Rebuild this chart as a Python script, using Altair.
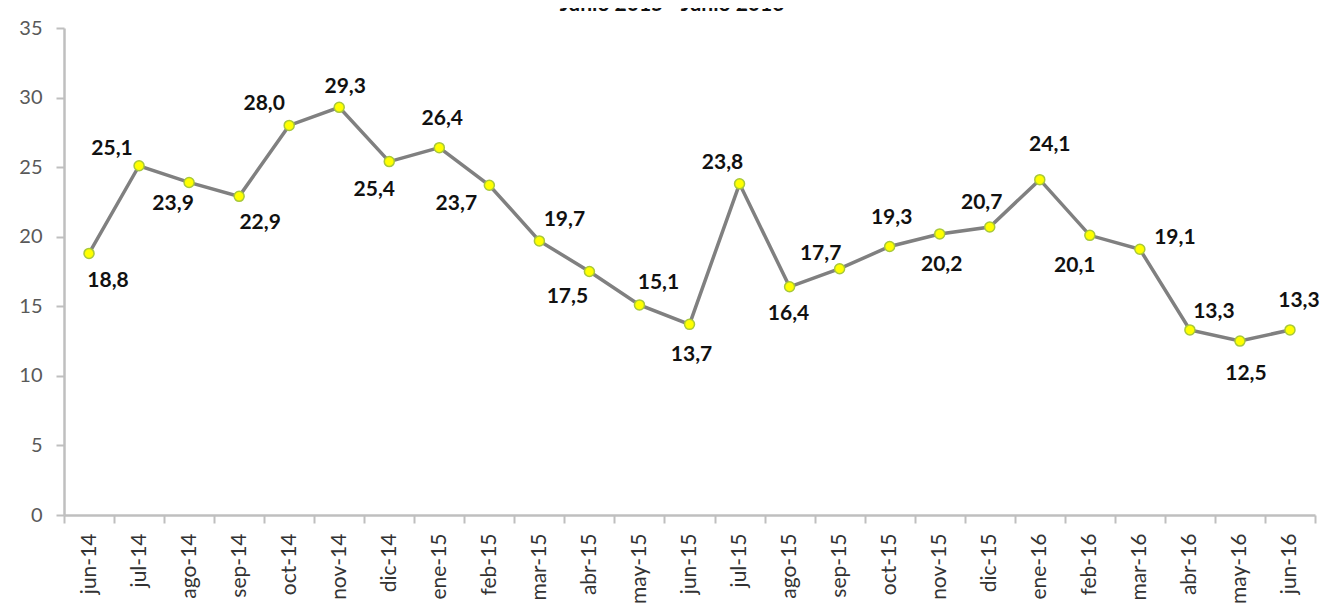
import altair as alt
import pandas as pd

# ---- data ----
months = ["jun-14", "jul-14", "ago-14", "sep-14", "oct-14", "nov-14", "dic-14",
          "ene-15", "feb-15", "mar-15", "abr-15", "may-15", "jun-15", "jul-15",
          "ago-15", "sep-15", "oct-15", "nov-15", "dic-15", "ene-16", "feb-16",
          "mar-16", "abr-16", "may-16", "jun-16"]
values = [18.8, 25.1, 23.9, 22.9, 28.0, 29.3, 25.4, 26.4, 23.7, 19.7, 17.5, 15.1,
          13.7, 23.8, 16.4, 17.7, 19.3, 20.2, 20.7, 24.1, 20.1, 19.1, 13.3, 12.5, 13.3]
y_ticks = [0, 5, 10, 15, 20, 25, 30, 35]
title_text = "Junio 2015 - Junio 2016"

# label placement relative to each point (pixels)
label_dx = [19, -27, -16, 21, -25, 6, -15, 3, -33, 25, -22, 19, 2, -17, -1, -19,
            2, 2, -8, 10, -15, 35, 24, 6, 9]
label_dy = [28, -17, 22, 27, -21, -20, 28, -29, 19, -21, 25, -22, 31, -21, 27, -15,
            -28, 31, -24, -35, 31, -11, -18, 33, -29]

labels = [f"{v:.1f}".replace(".", ",") for v in values]
df = pd.DataFrame({"mes": months, "valor": values, "etiqueta": labels})

FONT = "Lato"

x_enc = alt.X("mes:N", sort=months, title=None,
              scale=alt.Scale(type="band", paddingInner=0, paddingOuter=0),
              axis=alt.Axis(labelAngle=-90, labelAlign="right", labelBaseline="middle",
                            labelFont=FONT, labelFontSize=21, labelColor="#333333",
                            labelPadding=10, tickSize=8, tickBand="extent",
                            tickColor="#BFBFBF", tickWidth=2,
                            domainColor="#BFBFBF", domainWidth=2.5, grid=False))
y_enc = alt.Y("valor:Q", title=None,
              scale=alt.Scale(domain=[0, 35], nice=False, zero=True),
              axis=alt.Axis(values=y_ticks, labelFont=FONT, labelFontSize=20,
                            labelColor="#595959", labelPadding=14, tickSize=8,
                            tickColor="#BFBFBF", tickWidth=2,
                            domainColor="#BFBFBF", domainWidth=2.5, grid=False))

base = alt.Chart(df)

line = base.mark_line(color="#808080", strokeWidth=3.5).encode(x=x_enc, y=y_enc)
points = base.mark_point(filled=True, fill="#FFFF00", stroke="#A8C83A",
                         strokeWidth=1.5, size=100, opacity=1).encode(x=x_enc, y=y_enc)

label_layers = []
for m, ddx, ddy in zip(months, label_dx, label_dy):
    label_layers.append(
        base.transform_filter(alt.datum.mes == m)
        .mark_text(font=FONT, fontSize=21, fontWeight="bold", color="#111111",
                   dx=ddx, dy=ddy, align="center", baseline="middle")
        .encode(x=x_enc, y=y_enc, text="etiqueta:N")
    )

title_layer = alt.Chart(pd.DataFrame({"t": [title_text]})).mark_text(
    font=FONT, fontSize=21, fontWeight="bold", color="#111111",
    align="center", baseline="alphabetic"
).encode(x=alt.value(608), y=alt.value(-17), text="t:N")

chart = alt.layer(line, points, *label_layers, title_layer).properties(
    width=1251, height=487,
    autosize=alt.AutoSizeParams(type="none"),
    padding={"left": 56, "top": 20, "right": 8, "bottom": 90},
).configure_view(stroke=None)

chart.save("out.html", embed_options={"renderer": "svg", "actions": False})
